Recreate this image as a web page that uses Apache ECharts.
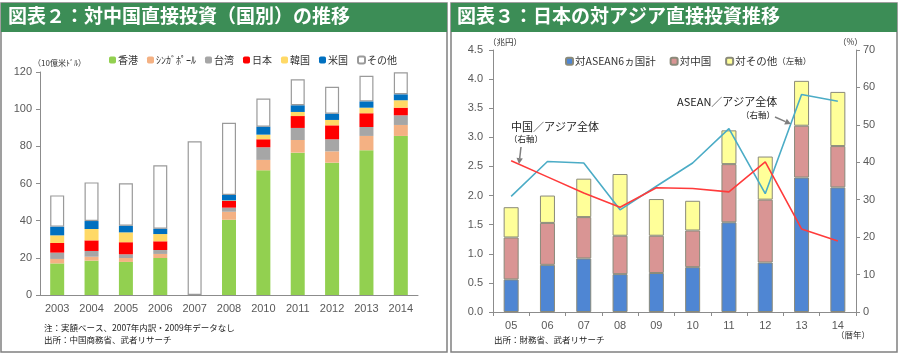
<!DOCTYPE html>
<html><head><meta charset="utf-8">
<script src="https://cdn.jsdelivr.net/npm/echarts@6/dist/echarts.min.js"></script>
<style>html,body{margin:0;padding:0;background:#fff}#c{width:900px;height:356px}</style>
</head><body><div id="c"></div>
<script>
// ---- Left chart data (10億米ドル) ----
const years = ['2003','2004','2005','2006','2007','2008','2010','2011','2012','2013','2014'];
const hongKong  = [17.0,18.5,17.8,19.9,null,40.5,67.1,76.6,71.2,77.9,85.6];
const singapore = [2.4,2.1,2.1,2.2,null,4.3,5.6,6.8,6.1,7.7,5.9];
const taiwan    = [3.4,3.1,2.0,2.1,null,2.2,6.8,6.5,6.5,4.8,5.2];
const japan     = [5.2,5.7,6.5,4.7,null,3.6,4.3,6.4,7.5,7.4,4.1];
const korea     = [4.1,6.1,5.3,3.9,null,0.3,2.5,2.2,2.9,3.0,4.0];
const usa       = [4.7,4.3,3.6,2.9,null,2.9,4.3,3.6,3.4,3.4,3.2];
const others    = [16.8,20.8,22.8,34.1,82.7,38.9,15.1,14.0,14.5,13.8,11.9];

// ---- Right chart data ----
const yearsR = ['05','06','07','08','09','10','11','12','13','14'];
const asean6   = [0.56,0.81,0.92,0.65,0.67,0.77,1.54,0.85,2.31,2.14];
const chinaInv = [0.72,0.72,0.71,0.66,0.64,0.63,1.00,1.08,0.89,0.71];
const otherInv = [0.52,0.47,0.66,1.06,0.63,0.51,0.58,0.74,0.77,0.93];
const aseanShare = [30.9,40.2,39.8,27.3,33.6,39.8,49.0,31.6,58.1,56.3];
const chinaShare = [40.4,36.1,31.8,28.0,33.2,33.0,32.1,40.1,22.2,19.0];

const FONT = '"Liberation Sans", "Noto Sans CJK JP", sans-serif';
const JFONT = '"Noto Sans CJK JP", sans-serif';
const dash = a => a.map(v => v === null ? '-' : v);

function arrow(x1, y1, x2, y2, color) {
  const ang = Math.atan2(y2 - y1, x2 - x1), L = 6, W = 3.2;
  const bx = x2 - L * Math.cos(ang), by = y2 - L * Math.sin(ang);
  const px = -Math.sin(ang) * W, py = Math.cos(ang) * W;
  return [
    {type:'line', shape:{x1, y1, x2:bx, y2:by}, style:{stroke:color, lineWidth:1.5}, z:20},
    {type:'polygon', shape:{points:[[x2,y2],[bx+px,by+py],[bx-px,by-py]]}, style:{fill:color}, z:20}
  ];
}

const leftSeries = [
  ['香港', hongKong, '#92d050'],
  ['ｼﾝｶﾞﾎﾟｰﾙ', singapore, '#f4b183'],
  ['台湾', taiwan, '#a6a6a6'],
  ['日本', japan, '#ff0000'],
  ['韓国', korea, '#ffd966'],
  ['米国', usa, '#0070c0']
].map(([n, d, c]) => ({
  name: n, type: 'bar', stack: 'L', xAxisIndex: 0, yAxisIndex: 0,
  data: dash(d), barWidth: 14, itemStyle: {color: c}
}));
leftSeries.push({
  name: 'その他', type: 'bar', stack: 'L', xAxisIndex: 0, yAxisIndex: 0,
  data: dash(others), barWidth: 14,
  itemStyle: {color: '#ffffff', borderColor: '#9a9a9a', borderWidth: 1.2}
});

const rightBars = [
  ['対ASEAN6ヵ国計', asean6, '#4f86d3'],
  ['対中国', chinaInv, '#d99594'],
  ['対その他（左軸）', otherInv, '#ffff99']
].map(([n, d, c]) => ({
  name: n, type: 'bar', stack: 'R', xAxisIndex: 1, yAxisIndex: 1,
  data: d, barWidth: 15,
  itemStyle: {color: c, borderColor: '#8a8a7a', borderWidth: 1}
}));

const axisLineStyle = {lineStyle: {color: '#8c8c8c', width: 1}};
const lbl = {color: '#595959', fontSize: 11, fontFamily: FONT};

const option = {
  animation: false,
  textStyle: {fontFamily: FONT},
  grid: [
    {left: 40, right: 482, top: 72, bottom: 61},
    {left: 493, right: 44, top: 50, bottom: 44}
  ],
  legend: [
    {data: ['香港','ｼﾝｶﾞﾎﾟｰﾙ','台湾','日本','韓国','米国','その他'],
     left: 104, top: 50, itemWidth: 7, itemHeight: 7, itemGap: 9,
     textStyle: {fontSize: 10, color: '#333', fontFamily: JFONT, padding: [0,0,0,-3]}},
    {data: ['対ASEAN6ヵ国計','対中国','対その他（左軸）'],
     left: 560, top: 51, itemWidth: 7, itemHeight: 7, itemGap: 14,
     formatter: n => n === '対その他（左軸）' ? '対その他{s|（左軸）}' : n,
     textStyle: {fontSize: 10.5, color: '#333', fontFamily: JFONT, padding: [0,0,0,-3],
       rich: {s: {fontSize: 8.5, color: '#333', fontFamily: JFONT}}}}
  ],
  xAxis: [
    {type: 'category', gridIndex: 0, data: years,
     axisLine: axisLineStyle, axisTick: {show: false},
     axisLabel: Object.assign({margin: 8}, lbl)},
    {type: 'category', gridIndex: 1, data: yearsR,
     axisLine: axisLineStyle, axisTick: {show: true, length: 4, lineStyle: {color: '#8c8c8c'}},
     axisLabel: Object.assign({margin: 8}, lbl)}
  ],
  yAxis: [
    {type: 'value', gridIndex: 0, min: 0, max: 120, interval: 20,
     axisLine: Object.assign({show: true}, axisLineStyle),
     axisTick: {show: true, length: 4, lineStyle: {color: '#8c8c8c'}},
     splitLine: {show: false}, axisLabel: Object.assign({margin: 8}, lbl)},
    {type: 'value', gridIndex: 1, min: 0, max: 4.5, interval: 0.5,
     axisLine: Object.assign({show: true}, axisLineStyle),
     axisTick: {show: true, length: 4, lineStyle: {color: '#8c8c8c'}},
     splitLine: {show: false},
     axisLabel: Object.assign({margin: 10, formatter: v => v.toFixed(1)}, lbl)},
    {type: 'value', gridIndex: 1, position: 'right', min: 0, max: 70, interval: 10,
     axisLine: Object.assign({show: true}, axisLineStyle),
     axisTick: {show: true, length: 4, lineStyle: {color: '#8c8c8c'}},
     splitLine: {show: false}, axisLabel: Object.assign({margin: 7}, lbl)}
  ],
  series: leftSeries.concat(rightBars, [
    {name: 'ASEAN／アジア全体', type: 'line', xAxisIndex: 1, yAxisIndex: 2,
     data: aseanShare, showSymbol: false, z: 5,
     lineStyle: {color: '#4bacc6', width: 1.6}},
    {name: '中国／アジア全体', type: 'line', xAxisIndex: 1, yAxisIndex: 2,
     data: chinaShare, showSymbol: false, z: 5,
     lineStyle: {color: '#ff3b3b', width: 1.6}}
  ]),
  graphic: [
    // panels
    {type: 'rect', shape: {x: 1, y: 3, width: 446, height: 349}, style: {fill: 'none', stroke: '#808080', lineWidth: 1.5}, z: 1},
    {type: 'rect', shape: {x: 1, y: 3, width: 446, height: 29}, style: {fill: '#3c8d56'}, z: 2},
    {type: 'rect', shape: {x: 451, y: 3, width: 446, height: 349}, style: {fill: 'none', stroke: '#808080', lineWidth: 1.5}, z: 1},
    {type: 'rect', shape: {x: 451, y: 3, width: 446, height: 29}, style: {fill: '#3c8d56'}, z: 2},
    {type: 'text', left: 8, top: 6, z: 3, style: {text: '図表２：対中国直接投資（国別）の推移', fill: '#fff', font: 'bold 19px "Noto Sans CJK JP"'}},
    {type: 'text', left: 457, top: 6, z: 3, style: {text: '図表３：日本の対アジア直接投資推移', fill: '#fff', font: 'bold 19px "Noto Sans CJK JP"'}},
    // left texts
    {type: 'text', left: 33, top: 59, style: {text: '（10億米ﾄﾞﾙ）', fill: '#333', font: '8px "Noto Sans CJK JP"'}},
    {type: 'text', left: 44, top: 324, style: {text: '注：実額ベース、2007年内訳・2009年データなし', fill: '#222', font: '8.5px "Noto Sans CJK JP"'}},
    {type: 'text', left: 44, top: 336, style: {text: '出所：中国商務省、武者リサーチ', fill: '#222', font: '8.5px "Noto Sans CJK JP"'}},
    // right texts
    {type: 'text', left: 488, top: 38, style: {text: '（兆円）', fill: '#333', font: '8.5px "Noto Sans CJK JP"'}},
    {type: 'text', left: 838, top: 38, style: {text: '（%）', fill: '#333', font: '8.5px "Noto Sans CJK JP"'}},
    {type: 'text', left: 836, top: 331, style: {text: '（暦年）', fill: '#333', font: '8.5px "Noto Sans CJK JP"'}},
    {type: 'text', left: 494, top: 336, style: {text: '出所：財務省、武者リサーチ', fill: '#222', font: '8.5px "Noto Sans CJK JP"'}},
    {type: 'text', left: 511, top: 121, style: {text: '中国／アジア全体', fill: '#222', font: '11px "Noto Sans CJK JP"'}},
    {type: 'text', left: 509, top: 135, style: {text: '（右軸）', fill: '#222', font: '8.5px "Noto Sans CJK JP"'}},
    {type: 'text', left: 677, top: 96, style: {text: 'ASEAN／アジア全体', fill: '#222', font: '11px "Noto Sans CJK JP"'}},
    {type: 'text', left: 741, top: 111, style: {text: '（右軸）', fill: '#222', font: '8.5px "Noto Sans CJK JP"'}}
  ].concat(arrow(521, 147, 519, 164, '#7f7f7f'), arrow(775, 117, 791, 124, '#7f7f7f'))
};

const chart = echarts.init(document.getElementById('c'), null, {renderer: 'canvas'});
chart.setOption(option);
</script></body></html>
